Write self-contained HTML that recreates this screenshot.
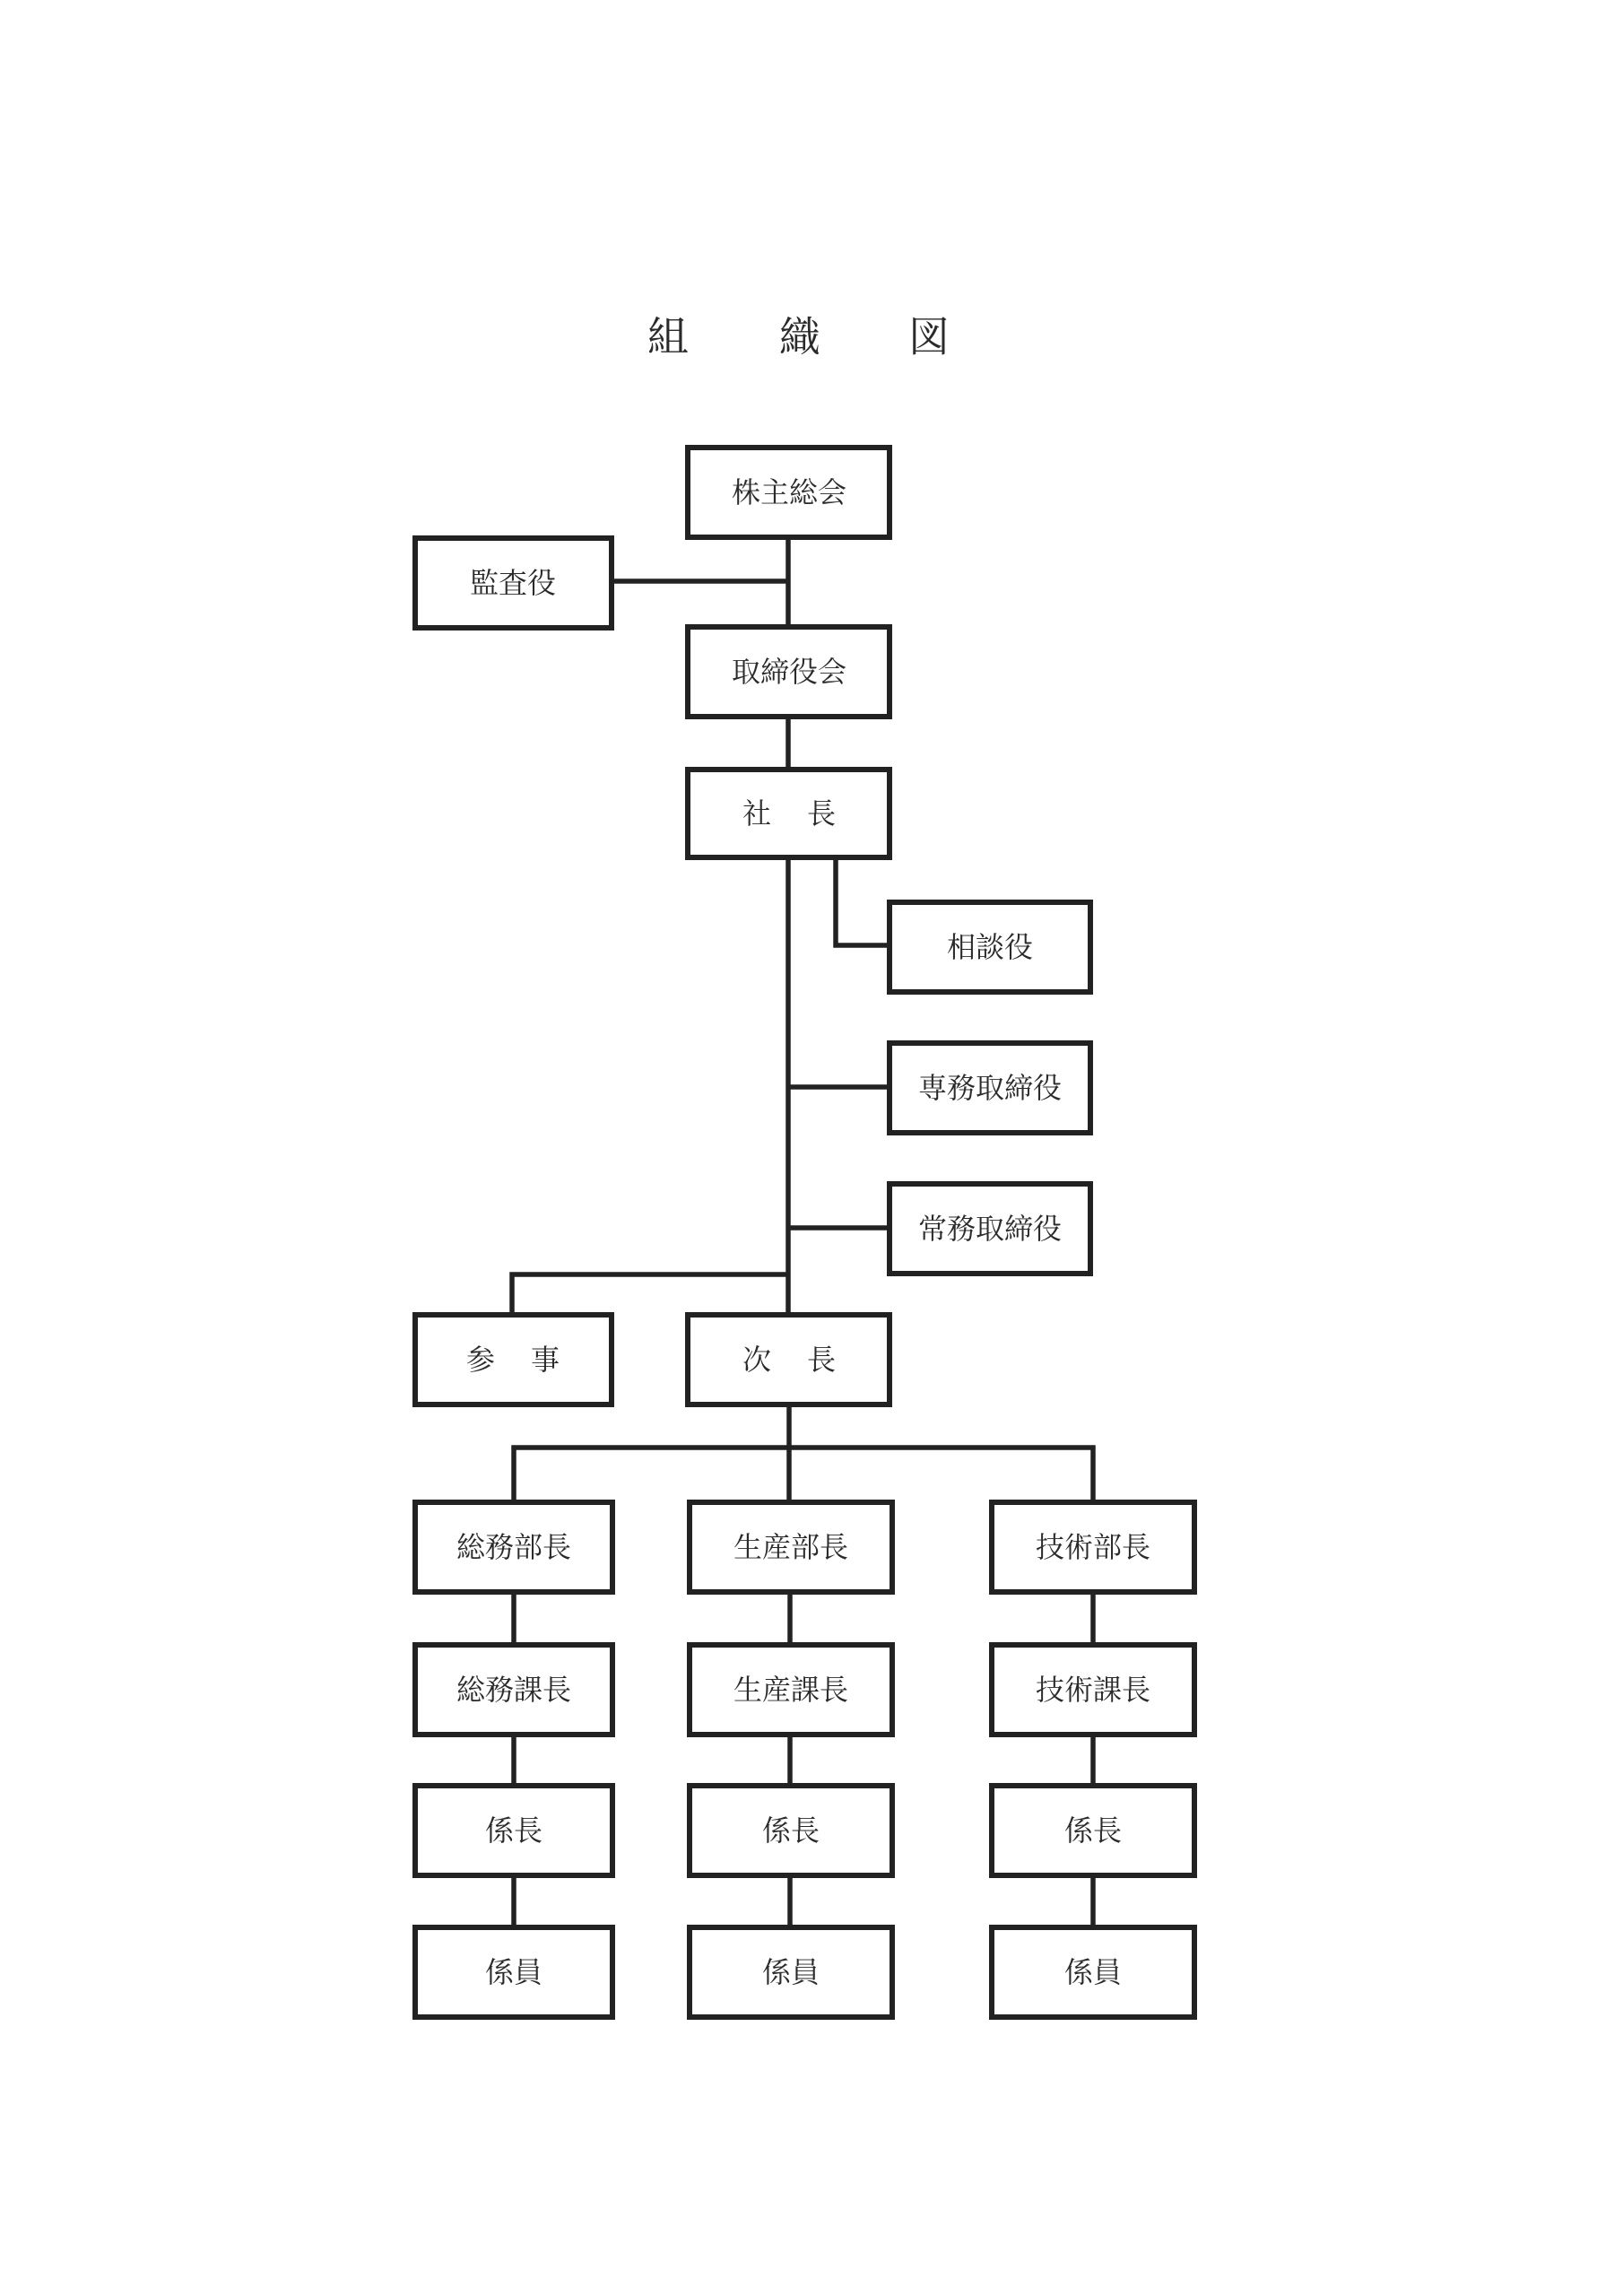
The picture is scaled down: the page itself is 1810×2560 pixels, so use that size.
<!DOCTYPE html>
<html><head><meta charset="utf-8"><style>
html,body{margin:0;padding:0;background:#fff;}
svg{display:block;}
text{font-family:"Liberation Serif","Noto Serif CJK SC",serif;fill:#2a2a2a;text-anchor:middle;dominant-baseline:central;}
</style></head><body>
<svg width="1810" height="2560" viewBox="0 0 1810 2560" xmlns="http://www.w3.org/2000/svg">
<g font-size="46">
<text x="745" y="376">組</text><text x="892" y="376">織</text><text x="1036" y="376">図</text>
</g>
<g stroke="#222" stroke-width="5.5" fill="none">
<line x1="879" y1="600" x2="879" y2="697"/>
<line x1="682" y1="648" x2="879" y2="648"/>
<line x1="879" y1="800" x2="879" y2="856"/>
<line x1="879" y1="957" x2="879" y2="1464"/>
<polyline points="932,957 932,1054 990,1054"/>
<line x1="879" y1="1212" x2="990" y2="1212"/>
<line x1="879" y1="1369" x2="990" y2="1369"/>
<polyline points="879,1421 571,1421 571,1464"/>
<line x1="880" y1="1567" x2="880" y2="1673"/>
<polyline points="573,1673 573,1614 1219,1614 1219,1673"/>
<line x1="573" y1="1776" x2="573" y2="1833"/><line x1="573" y1="1935" x2="573" y2="1990"/><line x1="573" y1="2093" x2="573" y2="2148"/>
<line x1="881" y1="1776" x2="881" y2="1833"/><line x1="881" y1="1935" x2="881" y2="1990"/><line x1="881" y1="2093" x2="881" y2="2148"/>
<line x1="1219" y1="1776" x2="1219" y2="1833"/><line x1="1219" y1="1935" x2="1219" y2="1990"/><line x1="1219" y1="2093" x2="1219" y2="2148"/>
</g>
<g stroke="#222" stroke-width="6" fill="#fff">
<rect x="767" y="499" width="225" height="100"/>
<rect x="463" y="600" width="219" height="100"/>
<rect x="767" y="699" width="225" height="100"/>
<rect x="767" y="858" width="225" height="98"/>
<rect x="992" y="1006" width="224" height="100"/>
<rect x="992" y="1163" width="224" height="100"/>
<rect x="992" y="1320" width="224" height="100"/>
<rect x="463" y="1466" width="219" height="100"/>
<rect x="767" y="1466" width="225" height="100"/>
<rect x="463" y="1675" width="220" height="100"/>
<rect x="769" y="1675" width="226" height="100"/>
<rect x="1106" y="1675" width="226" height="100"/>
<rect x="463" y="1834" width="220" height="100"/>
<rect x="769" y="1834" width="226" height="100"/>
<rect x="1106" y="1834" width="226" height="100"/>
<rect x="463" y="1991" width="220" height="100"/>
<rect x="769" y="1991" width="226" height="100"/>
<rect x="1106" y="1991" width="226" height="100"/>
<rect x="463" y="2149" width="220" height="100"/>
<rect x="769" y="2149" width="226" height="100"/>
<rect x="1106" y="2149" width="226" height="100"/>
</g>
<g font-size="32">
<text x="880" y="549">株主総会</text>
<text x="572" y="650">監査役</text>
<text x="880" y="749">取締役会</text>
<text x="880" y="907">社　 長</text>
<text x="1104" y="1056">相談役</text>
<text x="1104" y="1213">専務取締役</text>
<text x="1104" y="1370">常務取締役</text>
<text x="572" y="1516">参　 事</text>
<text x="880" y="1516">次　 長</text>
<text x="573" y="1725">総務部長</text>
<text x="882" y="1725">生産部長</text>
<text x="1219" y="1725">技術部長</text>
<text x="573" y="1884">総務課長</text>
<text x="882" y="1884">生産課長</text>
<text x="1219" y="1884">技術課長</text>
<text x="573" y="2041">係長</text>
<text x="882" y="2041">係長</text>
<text x="1219" y="2041">係長</text>
<text x="573" y="2199">係員</text>
<text x="882" y="2199">係員</text>
<text x="1219" y="2199">係員</text>
</g>
</svg>
</body></html>
